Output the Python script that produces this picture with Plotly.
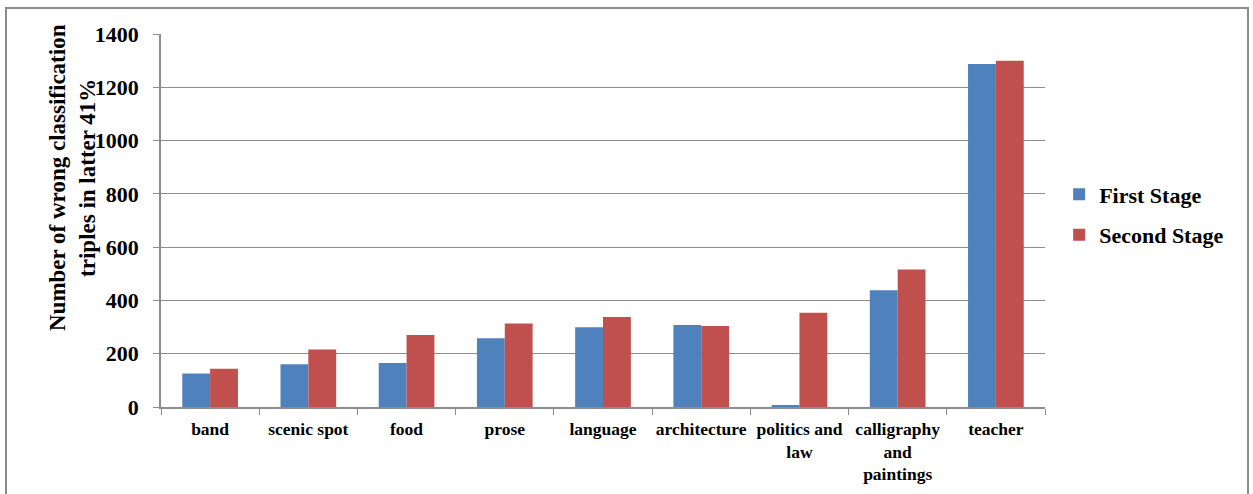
import plotly.graph_objects as go

categories = ["band", "scenic spot", "food", "prose", "language", "architecture",
              "politics and<br>law", "calligraphy<br>and<br>paintings", "teacher"]
first_stage = [126, 160, 165, 258, 299, 308, 5, 438, 1287]
second_stage = [144, 216, 270, 313, 338, 304, 354, 516, 1300]
y_ticks = [0, 200, 400, 600, 800, 1000, 1200, 1400]

FONT = "Liberation Serif"
GRID = "#8c8c8c"

fig = go.Figure()
fig.add_trace(go.Bar(x=categories, y=first_stage, name="First Stage",
                     marker=dict(color="#4F81BD", line=dict(width=0)),
                     legendgroup="a"))
fig.add_trace(go.Bar(x=categories, y=second_stage, name="Second Stage",
                     marker=dict(color="#C0504D", line=dict(width=0)),
                     legendgroup="b"))

fig.update_layout(
    width=1253, height=494,
    margin=dict(l=161, r=208, t=34, b=87, autoexpand=False),
    paper_bgcolor="white", plot_bgcolor="white",
    barmode="group", bargap=0.433, bargroupgap=0,
    font=dict(family=FONT, color="black"),
    legend=dict(x=1.016, xanchor="left", y=0.515, yanchor="middle",
                font=dict(family=FONT, size=22, weight="bold", color="black"),
                tracegroupgap=9, itemwidth=30, bgcolor="rgba(0,0,0,0)"),
    xaxis=dict(type="category", tickson="boundaries", ticks="outside", ticklen=6,
               tickcolor=GRID, showline=True, linecolor=GRID, linewidth=1.5,
               showgrid=False, ticklabelstandoff=5, tickangle=0,
               tickfont=dict(family=FONT, size=17.5, weight="bold", color="black")),
    yaxis=dict(range=[0, 1400], tickvals=y_ticks, ticks="outside", ticklen=6,
               tickcolor=GRID, showline=True, linecolor=GRID, linewidth=1.5,
               showgrid=True, gridcolor=GRID, gridwidth=1, zeroline=False,
               ticklabelstandoff=10,
               tickfont=dict(family=FONT, size=22, weight="bold", color="black")),
    shapes=[dict(type="rect", xref="paper", yref="paper",
                 x0=(6 - 161) / 884, x1=(1248 - 161) / 884,
                 y0=(407 - 520) / 373, y1=(407 - 8) / 373,
                 line=dict(color="#8c8c8c", width=2), fillcolor="rgba(0,0,0,0)",
                 layer="below")],
    annotations=[dict(text="Number of wrong classification<br>triples in latter 41%",
                      xref="paper", yref="paper", x=(72 - 161) / 884,
                      y=(407 - 178) / 373, textangle=-90, showarrow=False,
                      xanchor="center", yanchor="middle",
                      font=dict(family=FONT, size=23, weight="bold", color="black"))],
)

fig.write_html("out.html")
